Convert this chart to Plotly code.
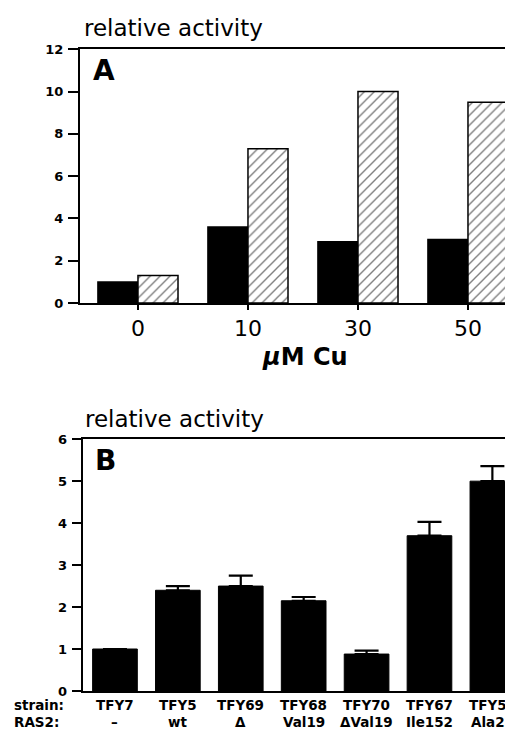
import plotly.graph_objects as go

# ---- data ----
cu_labels = ["0", "10", "30", "50"]
black_A = [1.0, 3.6, 2.9, 3.0]
hatched_A = [1.3, 7.3, 10.0, 9.5]

strains = ["TFY7", "TFY5", "TFY69", "TFY68", "TFY70", "TFY67", "TFY59"]
ras2 = ["–", "wt", "Δ", "Val19", "ΔVal19", "Ile152", "Ala22"]
activity_B = [1.0, 2.4, 2.5, 2.15, 0.88, 3.7, 5.0]
err_B = [0.0, 0.1, 0.25, 0.09, 0.08, 0.33, 0.36]

W, H = 513, 738
OFF = 8  # page body margin offset of the figure


def px(x):
    return (x - OFF) / W


def py(y):
    return 1 - (y - OFF) / H


FONT = "DejaVu Sans"
fig = go.Figure()

xa = list(range(len(cu_labels)))
fig.add_trace(go.Bar(
    x=xa, y=black_A, width=0.364, offset=-0.364,
    marker=dict(color="black", line=dict(color="black", width=1.5)),
    xaxis="x", yaxis="y", showlegend=False))
fig.add_trace(go.Bar(
    x=xa, y=hatched_A, width=0.364, offset=0.0,
    marker=dict(color="white", line=dict(color="black", width=1.5),
                pattern=dict(shape="/", fgcolor="black", bgcolor="white",
                             size=7, solidity=0.2)),
    xaxis="x", yaxis="y", showlegend=False))

xb = list(range(len(strains)))
fig.add_trace(go.Bar(
    x=xb, y=activity_B, width=0.71, offset=-0.355,
    marker=dict(color="black", line=dict(color="black", width=1)),
    error_y=dict(type="data", symmetric=False, array=err_B,
                 arrayminus=[0] * len(err_B), color="black",
                 thickness=2.2, width=12),
    xaxis="x2", yaxis="y2", showlegend=False))

axis_common = dict(showgrid=False, zeroline=False, showline=True,
                   linecolor="black", linewidth=2)

fig.update_layout(
    width=W, height=H,
    margin=dict(l=0, r=0, t=0, b=0),
    paper_bgcolor="white", plot_bgcolor="white",
    barmode="overlay",
    font=dict(family=FONT, color="black"),
    xaxis=dict(domain=[px(80), 1], range=[-0.527, 3.482],
               tickmode="array", tickvals=xa, ticktext=cu_labels,
               ticks="outside", ticklen=5, tickwidth=1.5, tickcolor="black",
               ticklabelstandoff=0,
               tickfont=dict(family=FONT, size=22),
               mirror=True, anchor="y", **axis_common),
    yaxis=dict(domain=[py(302), py(43)], range=[0, 12], dtick=2,
               ticks="outside", ticklen=10, tickwidth=1.5, tickcolor="black",
               ticklabelstandoff=2,
               tickfont=dict(family=FONT, size=13, weight="bold"),
               anchor="x", **axis_common),
    xaxis2=dict(domain=[px(82.7), 1], range=[-0.513, 6.455],
                showticklabels=False, ticks="",
                mirror=True, anchor="y2", **axis_common),
    yaxis2=dict(domain=[py(698), py(441)], range=[0, 6], dtick=1,
                ticks="outside", ticklen=9, tickwidth=1.5, tickcolor="black",
                ticklabelstandoff=2,
                tickfont=dict(family=FONT, size=13, weight="bold"),
                anchor="x2", **axis_common),
)

ann = []
ann.append(dict(text="relative activity", x=px(82), y=py(21), xref="paper", yref="paper",
                xanchor="left", yanchor="middle", showarrow=False,
                font=dict(family=FONT, size=23)))
ann.append(dict(text="relative activity", x=px(83), y=py(420), xref="paper", yref="paper",
                xanchor="left", yanchor="middle", showarrow=False,
                font=dict(family=FONT, size=23)))
ann.append(dict(text="A", x=px(91), y=py(65), xref="paper", yref="paper",
                xanchor="left", yanchor="middle", showarrow=False,
                font=dict(family=FONT, size=28, weight="bold")))
ann.append(dict(text="B", x=px(93), y=py(463), xref="paper", yref="paper",
                xanchor="left", yanchor="middle", showarrow=False,
                font=dict(family=FONT, size=28, weight="bold")))
ann.append(dict(text="<i>μ</i>M Cu", x=px(305), y=py(357), xref="paper", yref="paper",
                xanchor="center", yanchor="middle", showarrow=False,
                font=dict(family=FONT, size=24, weight="bold")))
ann.append(dict(text="strain:", x=px(12), y=py(712), xref="paper", yref="paper",
                xanchor="left", yanchor="middle", showarrow=False,
                font=dict(family=FONT, size=13.5, weight="bold")))
ann.append(dict(text="RAS2:", x=px(12), y=py(730), xref="paper", yref="paper",
                xanchor="left", yanchor="middle", showarrow=False,
                font=dict(family=FONT, size=13.5, weight="bold")))
for i, (s, r) in enumerate(zip(strains, ras2)):
    ann.append(dict(text=s, x=i, y=py(712), xref="x2", yref="paper",
                    xanchor="center", yanchor="middle", showarrow=False,
                    font=dict(family=FONT, size=13.5, weight="bold")))
    ann.append(dict(text=r, x=i, y=py(730), xref="x2", yref="paper",
                    xanchor="center", yanchor="middle", showarrow=False,
                    font=dict(family=FONT, size=13.5, weight="bold")))
fig.update_layout(annotations=ann)

fig.write_html("out.html")
